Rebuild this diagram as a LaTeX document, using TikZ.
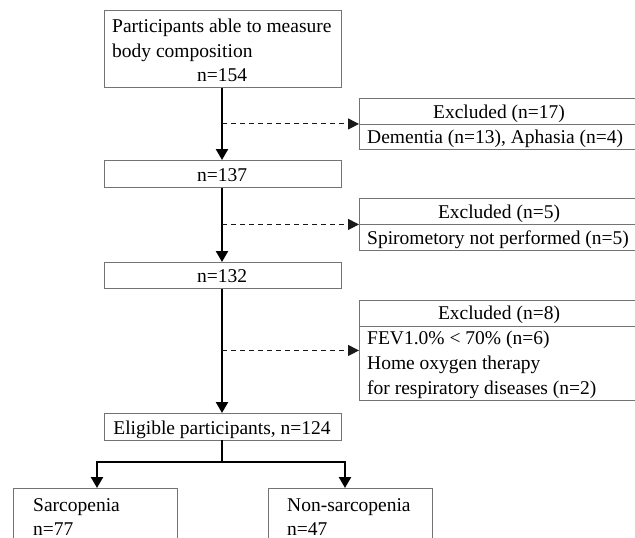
\documentclass[tikz,border=0pt]{standalone}
\usepackage{fontspec}
\setmainfont{Liberation Serif}
\usetikzlibrary{arrows.meta}
\tikzset{
  box/.style={draw=black!55, line width=0.9pt, fill=white, inner sep=0pt, anchor=north west},
  txt/.style={inner sep=0pt, anchor=base west, font=\fontsize{19.5}{25}\selectfont},
  ctxt/.style={inner sep=0pt, anchor=base, font=\fontsize{19.5}{25}\selectfont},
  mainarrow/.style={line width=2.4pt, -{Triangle[length=11pt,width=12pt]}},
  mainline/.style={line width=2.4pt},
  exarrow/.style={line width=1pt, black!90, dash pattern=on 5pt off 4pt, -{Triangle[length=11pt,width=11pt]}}
}
\begin{document}
\begin{tikzpicture}[x=1pt,y=-1pt]
\useasboundingbox (0,0) rectangle (635,538);
\clip (0,0) rectangle (635,538);
% main boxes
\node[box, minimum width=237pt, minimum height=77pt] (top) at (104,10) {};
\node[txt] (t1) at (112,32) {Participants able to measure};
\node[txt] (t2) at (112,57) {body composition};
\node[ctxt] (t3) at (222,81) {n=154};
\node[box, minimum width=237pt, minimum height=27pt] (b137) at (104,160) {};
\node[ctxt] (t137) at (222,181) {n=137};
\node[box, minimum width=237pt, minimum height=26pt] (b132) at (104,262) {};
\node[ctxt] (t132) at (222,282) {n=132};
\node[box, minimum width=237pt, minimum height=27pt] (elig) at (104,413) {};
\node[ctxt] (telig) at (222,434) {Eligible participants, n=124};
% exclusion boxes
\node[box, minimum width=282pt, minimum height=51pt] (ex1) at (359,98) {};
\draw[draw=black!55, line width=0.9pt] (359,124) -- (641,124);
\node[ctxt] (e1a) at (499,118) {Excluded (n=17)};
\node[txt] (e1b) at (367,143) {Dementia (n=13), Aphasia (n=4)};
\node[box, minimum width=282pt, minimum height=52pt] (ex2) at (359,198) {};
\draw[draw=black!55, line width=0.9pt] (359,224) -- (641,224);
\node[ctxt] (e2a) at (499,218) {Excluded (n=5)};
\node[txt] (e2b) at (367,244) {Spirometory not performed (n=5)};
\node[box, minimum width=282pt, minimum height=100pt] (ex3) at (359,300) {};
\draw[draw=black!55, line width=0.9pt] (359,326) -- (641,326);
\node[ctxt] (e3a) at (499,319) {Excluded (n=8)};
\node[txt] (e3b) at (367,344) {FEV1.0\% < 70\% (n=6)};
\node[txt] (e3c) at (367,369) {Home oxygen therapy};
\node[txt] (e3d) at (367,394) {for respiratory diseases (n=2)};
% outcome boxes
\node[box, minimum width=164pt, minimum height=80pt] (sar) at (13,488) {};
\node[txt] (s1) at (33,511) {Sarcopenia};
\node[txt] (s2) at (33,535) {n=77};
\node[box, minimum width=164pt, minimum height=80pt] (non) at (268,488) {};
\node[txt] (n1) at (287,511) {Non-sarcopenia};
\node[txt] (n2) at (287,535) {n=47};
% main flow
\draw[mainarrow] (top.south -| t3) -- (b137.north -| t3);
\draw[mainarrow] (b137.south -| t3) -- (b132.north -| t3);
\draw[mainarrow] (b132.south -| t3) -- (elig.north -| t3);
% exclusions
\draw[exarrow] (ex1.west -| t3) -- (ex1.west);
\draw[exarrow] (ex2.west -| t3) -- (ex2.west);
\draw[exarrow] (ex3.west -| t3) -- (ex3.west);
% branch
\coordinate (bl) at (97,462);
\coordinate (br) at (345,462);
\draw[mainline, line cap=rect] (elig.south -| t3) -- (t3 |- bl);
\draw[mainline] ([xshift=-1.2pt]bl) -- ([xshift=1.2pt]br);
\draw[mainarrow] (bl) -- (bl |- sar.north);
\draw[mainarrow] (br) -- (br |- non.north);
\end{tikzpicture}
\end{document}
